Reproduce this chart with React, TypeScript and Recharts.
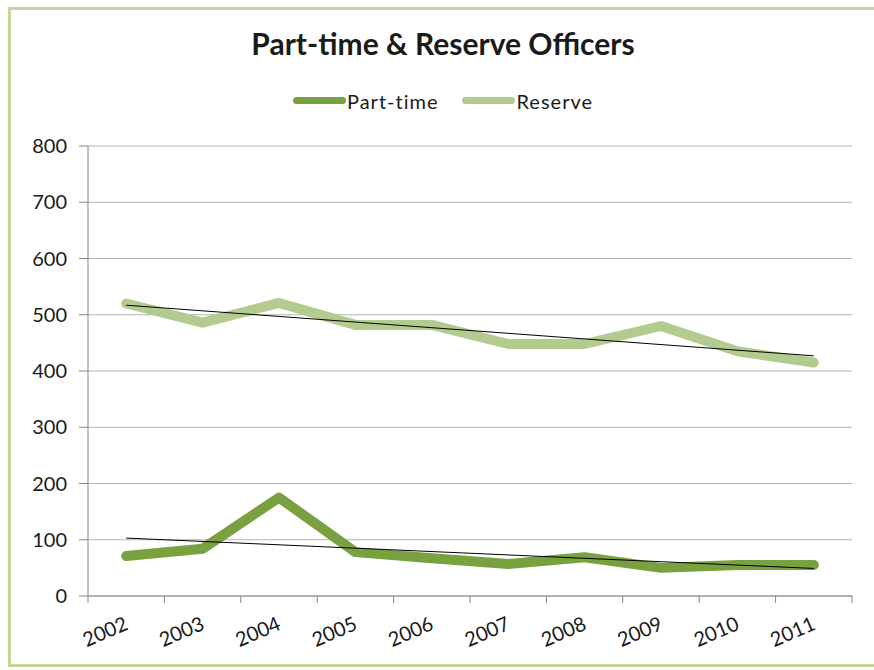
import React from "react";
import { LineChart, Line, XAxis, YAxis, CartesianGrid } from "recharts";

const years = ["2002", "2003", "2004", "2005", "2006", "2007", "2008", "2009", "2010", "2011"];
const partTime = [71, 84, 175, 78, 67, 57, 69, 50, 55, 55];
const reserve = [520, 486, 521, 482, 482, 448, 448, 480, 435, 415];
// linear trendline end points (first and last year)
const partTimeTrend = [103, 49];
const reserveTrend = [517, 427];
const yTicks = [0, 100, 200, 300, 400, 500, 600, 700, 800];

const W = 874;
const H = 670;
const PLOT_LEFT = 88;
const PLOT_RIGHT = 852;
const FONT = "Lato, 'Open Sans', sans-serif";

const data = years.map((year, i) => ({
  year,
  partTime: partTime[i],
  reserve: reserve[i],
  partTimeTrend: i === 0 ? partTimeTrend[0] : i === years.length - 1 ? partTimeTrend[1] : null,
  reserveTrend: i === 0 ? reserveTrend[0] : i === years.length - 1 ? reserveTrend[1] : null,
}));

const band = (PLOT_RIGHT - PLOT_LEFT) / years.length;

function YearTick(props: any) {
  const { x, y, payload, index } = props;
  const tx = x + 3;
  const ty = y + 33;
  return (
    <g>
      <line x1={x - band / 2} y1={y} x2={x - band / 2} y2={y + 7} stroke="#868686" />
      {index === years.length - 1 && (
        <line x1={x + band / 2} y1={y} x2={x + band / 2} y2={y + 7} stroke="#868686" />
      )}
      <text
        x={tx}
        y={ty}
        textAnchor="end"
        fill="#1a1a1a"
        fontSize={20}
        fontFamily={FONT}
        transform={`rotate(-23, ${tx}, ${ty})`}
      >
        {payload.value}
      </text>
    </g>
  );
}

function LegendItem({ color, label }: { color: string; label: string }) {
  return (
    <span style={{ display: "inline-flex", alignItems: "center", margin: "0 12px" }}>
      <span
        style={{
          display: "inline-block",
          width: 53,
          height: 7,
          borderRadius: 4,
          background: color,
        }}
      />
      <span style={{ marginLeft: 1 }}>{label}</span>
    </span>
  );
}

export default function App() {
  return (
    <div
      style={{
        position: "fixed",
        left: 0,
        top: 0,
        width: W,
        height: H,
        background: "#fff",
        overflow: "hidden",
      }}
    >
      <div
        style={{
          position: "absolute",
          left: 8,
          top: 7,
          width: 880,
          height: 654,
          border: "3px solid #c4d79b",
          borderRight: "none",
        }}
      />
      <div
        style={{
          position: "absolute",
          left: 0,
          top: 25,
          width: W,
          textAlign: "center",
          fontFamily: FONT,
          fontWeight: 700,
          fontSize: 30,
          color: "#1a1a1a",
          paddingLeft: 12,
          boxSizing: "border-box",
        }}
      >
        Part-time &amp; Reserve Officers
      </div>
      <div
        style={{
          position: "absolute",
          left: 0,
          top: 84,
          width: W,
          textAlign: "center",
          fontFamily: FONT,
          fontSize: 20,
          letterSpacing: 1,
          color: "#1a1a1a",
          paddingLeft: 12,
          boxSizing: "border-box",
        }}
      >
        <LegendItem color="#7aa13f" label="Part-time" />
        <LegendItem color="#b4cb8f" label="Reserve" />
      </div>
      <div style={{ position: "absolute", left: 0, top: 0 }}>
        <LineChart
          width={W}
          height={H}
          data={data}
          margin={{ top: 146, right: W - PLOT_RIGHT, bottom: 24, left: PLOT_LEFT - 60 }}
        >
          <CartesianGrid vertical={false} stroke="#b3b3b3" />
          <XAxis
            dataKey="year"
            scale="band"
            height={50}
            stroke="#868686"
            tickLine={false}
            tickSize={0}
            tickMargin={0}
            interval={0}
            tick={<YearTick />}
          />
          <YAxis
            width={60}
            domain={[0, 800]}
            ticks={yTicks}
            interval={0}
            stroke="#868686"
            tickSize={9}
            tickMargin={12}
            tick={{ fill: "#1a1a1a", fontSize: 20, fontFamily: FONT }}
          />
          <Line
            dataKey="reserve"
            stroke="#b4cb8f"
            strokeWidth={10}
            strokeLinecap="round"
            strokeLinejoin="round"
            dot={false}
            isAnimationActive={false}
          />
          <Line
            dataKey="partTime"
            stroke="#7aa13f"
            strokeWidth={10}
            strokeLinecap="round"
            strokeLinejoin="round"
            dot={false}
            isAnimationActive={false}
          />
          <Line
            dataKey="reserveTrend"
            stroke="#000"
            strokeWidth={1}
            connectNulls
            dot={false}
            isAnimationActive={false}
          />
          <Line
            dataKey="partTimeTrend"
            stroke="#000"
            strokeWidth={1}
            connectNulls
            dot={false}
            isAnimationActive={false}
          />
        </LineChart>
      </div>
    </div>
  );
}
